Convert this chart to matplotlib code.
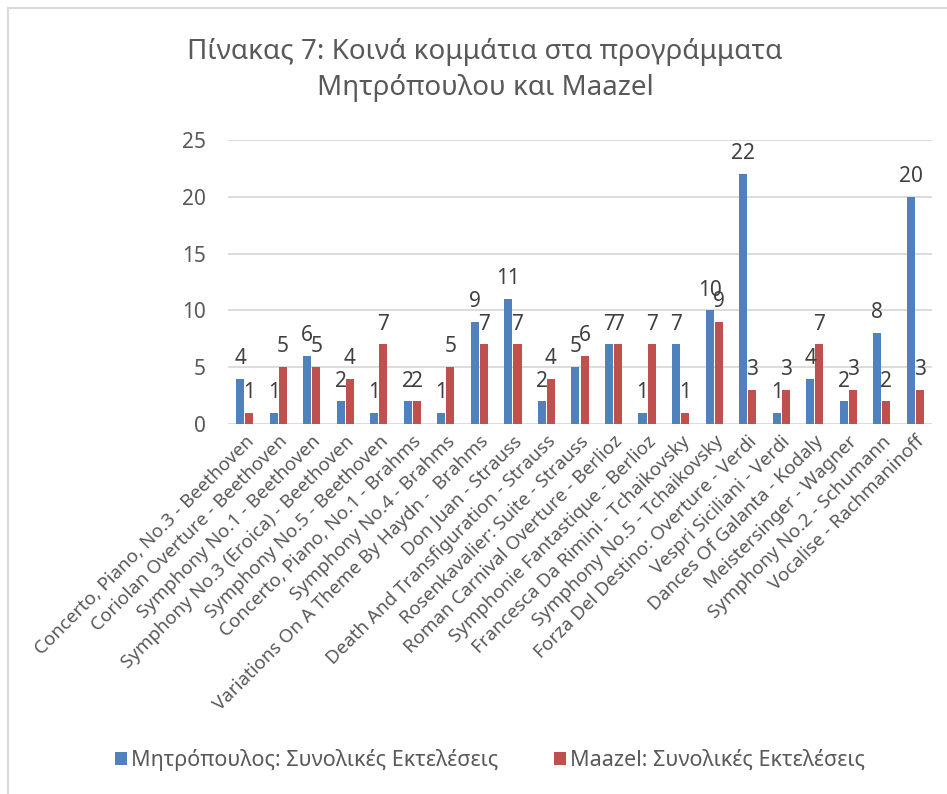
import matplotlib
matplotlib.use("Agg")
import matplotlib.pyplot as plt
import matplotlib.patches as patches
import numpy as np

plt.rcParams['font.family'] = ['Noto Sans', 'DejaVu Sans']

# data
pieces = [
    "Concerto, Piano, No.3 - Beethoven",
    "Coriolan Overture - Beethoven",
    "Symphony No.1 - Beethoven",
    "Symphony No.3 (Eroica) - Beethoven",
    "Symphony No.5 - Beethoven",
    "Concerto, Piano, No.1 - Brahms",
    "Symphony No.4 - Brahms",
    "Variations On A Theme By Haydn -  Brahms",
    "Don Juan - Strauss",
    "Death And Transfiguration - Strauss",
    "Rosenkavalier: Suite - Strauss",
    "Roman Carnival Overture - Berlioz",
    "Symphonie Fantastique - Berlioz",
    "Francesca Da Rimini - Tchaikovsky",
    "Symphony No.5 - Tchaikovsky",
    "Forza Del Destino: Overture - Verdi",
    "Vespri Siciliani - Verdi",
    "Dances Of Galanta - Kodaly",
    "Meistersinger - Wagner",
    "Symphony No.2 - Schumann",
    "Vocalise - Rachmaninoff",
]
mitropoulos = [4, 1, 6, 2, 1, 2, 1, 9, 11, 2, 5, 7, 1, 7, 10, 22, 1, 4, 2, 8, 20]
maazel = [1, 5, 5, 4, 7, 2, 5, 7, 7, 4, 6, 7, 7, 1, 9, 3, 3, 7, 3, 2, 3]

series_names = ["Μητρόπουλος: Συνολικές Εκτελέσεις", "Maazel: Συνολικές Εκτελέσεις"]
title = "Πίνακας 7: Κοινά κομμάτια στα προγράμματα\nΜητρόπουλου και Maazel"

blue = "#4F81BD"
red = "#C0504D"
grey_txt = "#595959"

W, H = 947, 794
fig = plt.figure(figsize=(W / 100, H / 100), dpi=100)

# outer chart border (only top/left visible in the reference)
fig.patches.append(patches.Rectangle((8 / W, -0.05), 1.2, 1 - 8 / H + 0.05,
                                     transform=fig.transFigure, fill=False,
                                     edgecolor="#D9D9D9", linewidth=1.5))

ax = fig.add_axes([228 / W, 1 - 424 / H, (932 - 228) / W, (424 - 140) / H])

x = np.arange(len(pieces))
bw = 0.24
b1 = ax.bar(x - 0.135, mitropoulos, bw, color=blue, zorder=3)
b2 = ax.bar(x + 0.135, maazel, bw, color=red, zorder=3)
ax.bar_label(b1, padding=7, fontsize=15, color="#404040")
ax.bar_label(b2, padding=7, fontsize=15, color="#404040")

ax.set_xlim(-0.5, len(pieces) - 0.5)
ax.set_ylim(0, 25)
ax.set_yticks([0, 5, 10, 15, 20, 25])
ax.yaxis.grid(True, color="#D9D9D9", linewidth=1.3, zorder=0)
ax.set_axisbelow(True)
for s in ax.spines.values():
    s.set_visible(False)
ax.tick_params(axis="y", length=0, labelsize=15, labelcolor=grey_txt, pad=16)
ax.tick_params(axis="x", length=0, labelsize=13.5, labelcolor=grey_txt, pad=6)
ax.set_xticks(x)
ax.set_xticklabels(pieces, rotation=45, ha="right", rotation_mode="anchor")

fig.text(485 / W, 1 - 70 / H, title, ha="center", va="center",
         fontsize=20, color=grey_txt, linespacing=1.4)

fig.legend([b1, b2], series_names, loc="center", bbox_to_anchor=(490 / W, 1 - 760 / H),
           ncol=2, frameon=False, fontsize=15.5, labelcolor=grey_txt,
           handlelength=0.55, handleheight=0.55, handletextpad=0.2, columnspacing=2.6)

fig.savefig("out.png", dpi=100)
